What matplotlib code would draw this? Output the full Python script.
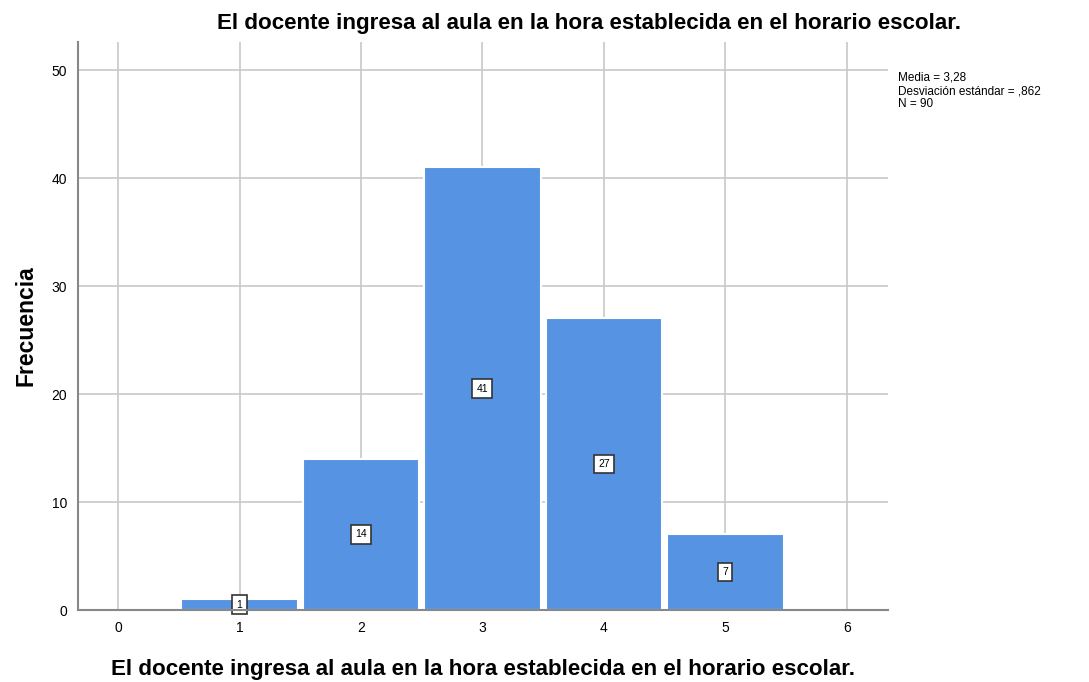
import matplotlib.pyplot as plt

valores = [0, 1, 2, 3, 4, 5, 6]
frecuencias = [0, 1, 14, 41, 27, 7, 0]
yticks = [0, 10, 20, 30, 40, 50]
titulo = 'El docente ingresa al aula en la hora establecida en el horario escolar.'
estadisticos = 'Media = 3,28\nDesviación estándar = ,862\nN = 90'

plt.rcParams['font.family'] = ['Liberation Sans', 'DejaVu Sans']

fig = plt.figure(figsize=(10.89, 6.82), dpi=100)
ax = fig.add_axes([78 / 1089, 1 - 610 / 682, (888 - 78) / 1089, (610 - 42) / 682])

ax.set_axisbelow(True)
ax.grid(True, color='#c8c8c8', linewidth=1.2)
ax.bar(valores, frecuencias, width=0.96, color='#5694e3', edgecolor='white', linewidth=1.5, zorder=3)

for v, f in zip(valores, frecuencias):
    if f > 0:
        ax.text(v, f / 2, str(f), ha='center', va='center', fontsize=7.5, zorder=4,
                bbox=dict(boxstyle='square,pad=0.4', facecolor='white', edgecolor='#333333', linewidth=1.2))

ax.set_xlim(-0.33, 6.34)
ax.set_ylim(0, 52.6)
ax.set_xticks(valores)
ax.set_yticks(yticks)
ax.tick_params(length=0, labelsize=10, pad=8)
for s in ['top', 'right']:
    ax.spines[s].set_visible(False)
for s in ['left', 'bottom']:
    ax.spines[s].set_color('#888888')
    ax.spines[s].set_linewidth(1.5)
    ax.spines[s].set_zorder(5)

ax.set_ylabel('Frecuencia', fontsize=16.5, fontweight='bold', labelpad=10)
ax.set_xlabel(titulo, fontsize=16.1, fontweight='bold', labelpad=17)
fig.text(589 / 1089, 1 - 23 / 682, titulo, ha='center', va='center', fontsize=16.1, fontweight='bold')
fig.text(898 / 1089, 1 - 72 / 682, estadisticos, ha='left', va='top', fontsize=8.5, linespacing=1.12)

fig.savefig('out.png', dpi=100)
